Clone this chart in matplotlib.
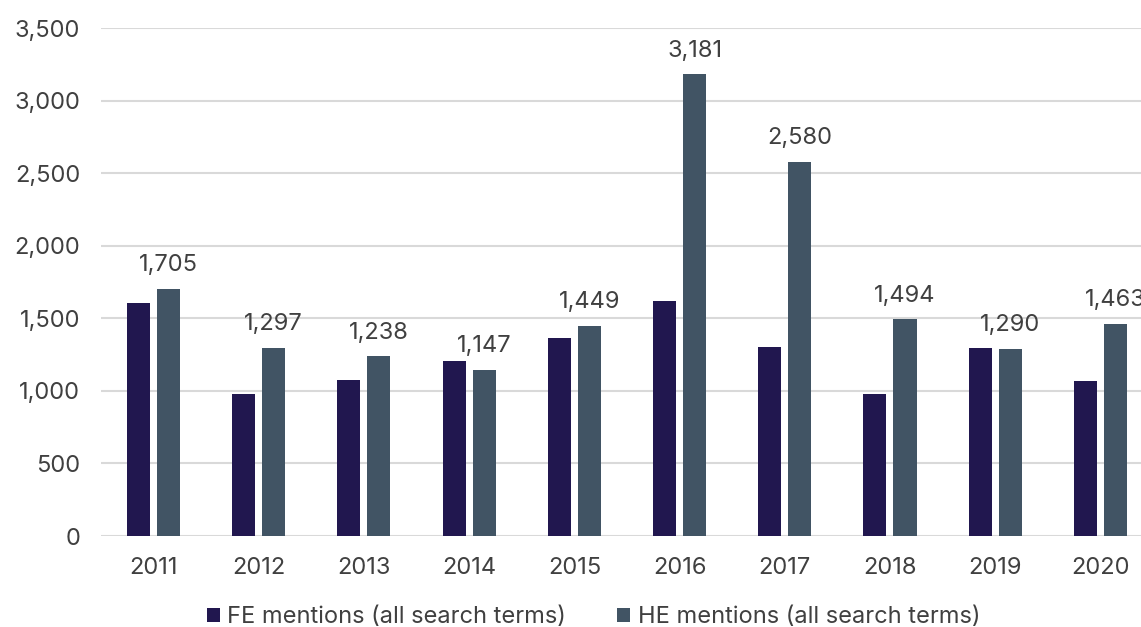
import numpy as np
import matplotlib
matplotlib.use('Agg')
import matplotlib.pyplot as plt

plt.rcParams['font.family'] = ['Inter', 'DejaVu Sans']

years = ['2011', '2012', '2013', '2014', '2015', '2016', '2017', '2018', '2019', '2020']
fe_mentions = [1603, 976, 1075, 1206, 1365, 1622, 1300, 976, 1296, 1066]
he_mentions = [1705, 1297, 1238, 1147, 1449, 3181, 2580, 1494, 1290, 1463]

fe_color = '#21174f'
he_color = '#415464'
text_color = '#404040'
grid_color = '#d9d9d9'
fs = 17

fig = plt.figure(figsize=(11.41, 6.27), dpi=100)
ax = fig.add_axes([0.0885, 0.1451, 0.922, 0.810])

x = np.arange(len(years))
w = 0.219
off = 0.1426
ax.bar(x - off, fe_mentions, w, color=fe_color, label='FE mentions (all search terms)', zorder=3)
ax.bar(x + off, he_mentions, w, color=he_color, label='HE mentions (all search terms)', zorder=3)

# labels above HE bars (the last one runs off the right edge, as in the source)
for xi, v in zip(x, he_mentions):
    ax.annotate(f'{v:,}', (xi + off, v), xytext=(0, 9), textcoords='offset points',
                ha='center', va='bottom', fontsize=fs, color=text_color, annotation_clip=False)

ax.set_xlim(-0.5, 9.5)
ax.set_ylim(0, 3500)
ax.set_yticks(range(0, 3501, 500))
ax.set_yticklabels([f'{t:,}' for t in range(0, 3501, 500)])
ax.set_xticks(x)
ax.set_xticklabels(years)
ax.tick_params(axis='both', length=0, labelsize=fs, labelcolor=text_color)
ax.tick_params(axis='y', pad=15)
ax.tick_params(axis='x', pad=15)
ax.grid(axis='y', color=grid_color, linewidth=1.5, zorder=0)
for s in ax.spines.values():
    s.set_visible(False)

fig.legend(loc='center', bbox_to_anchor=(0.520, 0.016), ncol=2, frameon=False,
           fontsize=fs, labelcolor=text_color, handlelength=0.55, handleheight=0.55,
           handletextpad=0.3, columnspacing=2.2)

fig.savefig('out.png', dpi=100)
